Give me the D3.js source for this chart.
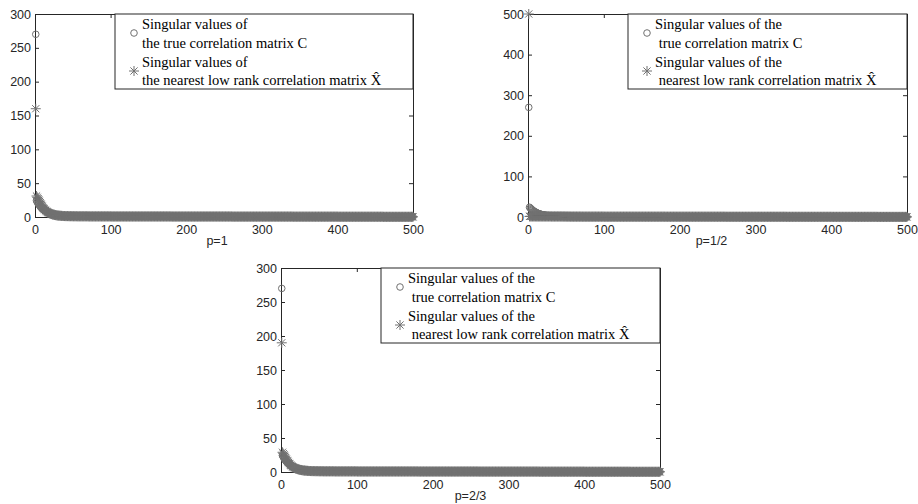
<!DOCTYPE html>
<html>
<head>
<meta charset="utf-8">
<script src="https://cdn.jsdelivr.net/npm/d3@7"></script>
<style>
  body { margin: 0; background: #fff; }
  .axis text { font-family: "Liberation Sans", Arial, sans-serif; font-size: 12.5px; fill: #262626; }
  .axis path, .axis line { stroke: #262626; }
  .title { font-family: "Liberation Sans", Arial, sans-serif; font-size: 12.5px; fill: #262626; }
  .legend text { font-family: "Liberation Serif", "Times New Roman", serif; font-size: 14.5px; fill: #000; }
</style>
</head>
<body>
<svg id="chart"></svg>
<script>
// index of each singular value (x axis)
var index = d3.range(1, 501);
var xTicks = [0, 100, 200, 300, 400, 500];
var yTicks300 = [0, 50, 100, 150, 200, 250, 300];
var yTicks500 = [0, 100, 200, 300, 400, 500];

// singular values of the true correlation matrix C (same in every panel)
var trueHead = [270, 24, 22, 20, 18.5, 17, 15.5, 14, 13, 12,
  11, 10, 9.2, 8.5, 7.8, 7.2, 6.6, 6.1, 5.6, 5.2,
  4.8, 4.5, 4.2, 3.9, 3.6, 3.4, 3.2, 3.0, 2.8, 2.7,
  2.5, 2.4, 2.3, 2.2, 2.1, 2.0, 1.9, 1.85, 1.8, 1.75];
var trueTail = [
  1.7,1.7,1.7,1.6,1.6, 1.6,1.6,1.5,1.5,1.5, 1.5,1.5,1.4,1.4,1.4, 1.4,1.4,1.4,1.3,1.3,
  1.3,1.3,1.3,1.3,1.3, 1.2,1.2,1.2,1.2,1.2, 1.2,1.2,1.2,1.1,1.1, 1.1,1.1,1.1,1.1,1.1,
  1.1,1.1,1.1,1.1,1.0, 1.0,1.0,1.0,1.0,1.0, 1.0,1.0,1.0,1.0,1.0, 1.0,1.0,1.0,1.0,1.0,
  1.0,1.0,1.0,1.0,1.0, 1.0,1.0,1.0,1.0,1.0, 0.9,0.9,0.9,0.9,0.9, 0.9,0.9,0.9,0.9,0.9,
  0.9,0.9,0.9,0.9,0.9, 0.9,0.9,0.9,0.9,0.9, 0.9,0.9,0.9,0.9,0.9, 0.9,0.9,0.9,0.9,0.9,
  0.9,0.9,0.9,0.9,0.9, 0.9,0.9,0.9,0.9,0.9, 0.9,0.9,0.9,0.9,0.9, 0.9,0.9,0.9,0.9,0.9,
  0.9,0.9,0.9,0.9,0.9, 0.9,0.9,0.9,0.9,0.9, 0.8,0.8,0.8,0.8,0.8, 0.8,0.8,0.8,0.8,0.8,
  0.8,0.8,0.8,0.8,0.8, 0.8,0.8,0.8,0.8,0.8, 0.8,0.8,0.8,0.8,0.8, 0.8,0.8,0.8,0.8,0.8,
  0.8,0.8,0.8,0.8,0.8, 0.8,0.8,0.8,0.8,0.8, 0.8,0.8,0.8,0.8,0.8, 0.8,0.8,0.8,0.8,0.8,
  0.8,0.8,0.8,0.8,0.8, 0.8,0.8,0.8,0.8,0.8, 0.8,0.8,0.8,0.8,0.8, 0.8,0.8,0.8,0.8,0.8,
  0.7,0.7,0.7,0.7,0.7, 0.7,0.7,0.7,0.7,0.7, 0.7,0.7,0.7,0.7,0.7, 0.7,0.7,0.7,0.7,0.7,
  0.7,0.7,0.7,0.7,0.7, 0.7,0.7,0.7,0.7,0.7, 0.7,0.7,0.7,0.7,0.7, 0.7,0.7,0.7,0.7,0.7,
  0.7,0.7,0.7,0.7,0.7, 0.7,0.7,0.7,0.7,0.7, 0.7,0.7,0.7,0.7,0.7, 0.7,0.7,0.7,0.7,0.7,
  0.7,0.7,0.7,0.7,0.7, 0.7,0.7,0.7,0.7,0.7, 0.7,0.7,0.7,0.7,0.7, 0.7,0.7,0.7,0.7,0.7,
  0.6,0.6,0.6,0.6,0.6, 0.6,0.6,0.6,0.6,0.6, 0.6,0.6,0.6,0.6,0.6, 0.6,0.6,0.6,0.6,0.6,
  0.6,0.6,0.6,0.6,0.6, 0.6,0.6,0.6,0.6,0.6, 0.6,0.6,0.6,0.6,0.6, 0.6,0.6,0.6,0.6,0.6,
  0.6,0.6,0.6,0.6,0.6, 0.6,0.6,0.6,0.6,0.6, 0.6,0.6,0.6,0.6,0.6, 0.6,0.6,0.6,0.6,0.6,
  0.6,0.6,0.6,0.6,0.6, 0.6,0.6,0.6,0.6,0.6, 0.6,0.6,0.6,0.6,0.6, 0.6,0.6,0.6,0.6,0.6,
  0.5,0.5,0.5,0.5,0.5, 0.5,0.5,0.5,0.5,0.5, 0.5,0.5,0.5,0.5,0.5, 0.5,0.5,0.5,0.5,0.5,
  0.5,0.5,0.5,0.5,0.5, 0.5,0.5,0.5,0.5,0.5, 0.5,0.5,0.5,0.5,0.5, 0.5,0.5,0.5,0.5,0.5,
  0.5,0.5,0.5,0.5,0.5, 0.5,0.5,0.5,0.5,0.5, 0.5,0.5,0.5,0.5,0.5, 0.5,0.5,0.5,0.5,0.5,
  0.4,0.4,0.4,0.4,0.4, 0.4,0.4,0.4,0.4,0.4, 0.4,0.4,0.4,0.4,0.4, 0.4,0.4,0.4,0.4,0.4,
  0.4,0.4,0.4,0.4,0.4, 0.4,0.4,0.4,0.4,0.4, 0.4,0.4,0.4,0.4,0.4, 0.4,0.4,0.4,0.4,0.4];

// singular values of the nearest low rank matrix X^, first 40 for each p
var p1Head = [160, 31, 29, 27, 25, 23, 21, 19, 17, 15,
  13.5, 12, 10.8, 9.7, 8.7, 7.8, 7.0, 6.3, 5.7, 5.2,
  4.7, 4.3, 3.9, 3.6, 3.3, 3.0, 2.8, 2.6, 2.4, 2.2,
  2.1, 2.0, 1.9, 1.8, 1.7, 1.6, 1.5, 1.45, 1.4, 1.35];
var pHalfHead = [500, 1.5, 1.5, 1.5, 1.5, 1.5, 1.5, 1.5, 1.5, 1.5,
  1.4, 1.4, 1.4, 1.4, 1.4, 1.4, 1.4, 1.4, 1.4, 1.4,
  1.4, 1.4, 1.4, 1.4, 1.4, 1.4, 1.4, 1.4, 1.4, 1.4,
  1.3, 1.3, 1.3, 1.3, 1.3, 1.3, 1.3, 1.3, 1.3, 1.3];
var p23Head = [190, 29, 27, 25, 23, 21, 19, 17, 15.5, 14,
  12.5, 11.2, 10, 9, 8.1, 7.3, 6.6, 6.0, 5.4, 4.9,
  4.5, 4.1, 3.8, 3.5, 3.2, 3.0, 2.8, 2.6, 2.4, 2.2,
  2.1, 2.0, 1.9, 1.8, 1.7, 1.6, 1.5, 1.45, 1.4, 1.35];
// the remaining 460 values, about the same for every p
var lowRankTail = [
  1.3,1.3,1.3,1.3,1.2, 1.2,1.2,1.2,1.2,1.1, 1.1,1.1,1.1,1.1,1.1, 1.0,1.0,1.0,1.0,1.0,
  1.0,1.0,1.0,1.0,1.0, 1.0,1.0,1.0,1.0,1.0, 0.9,0.9,0.9,0.9,0.9, 0.9,0.9,0.9,0.9,0.9,
  0.9,0.9,0.9,0.9,0.9, 0.9,0.9,0.9,0.9,0.9, 0.9,0.9,0.9,0.9,0.9, 0.9,0.9,0.9,0.9,0.9,
  0.8,0.8,0.8,0.8,0.8, 0.8,0.8,0.8,0.8,0.8, 0.8,0.8,0.8,0.8,0.8, 0.8,0.8,0.8,0.8,0.8,
  0.8,0.8,0.8,0.8,0.8, 0.8,0.8,0.8,0.8,0.8, 0.8,0.8,0.8,0.8,0.8, 0.8,0.8,0.8,0.8,0.8,
  0.8,0.8,0.8,0.8,0.8, 0.8,0.8,0.8,0.8,0.8, 0.8,0.8,0.8,0.8,0.8, 0.8,0.8,0.8,0.8,0.8,
  0.8,0.8,0.8,0.8,0.8, 0.8,0.8,0.8,0.8,0.8, 0.8,0.8,0.8,0.8,0.8, 0.8,0.8,0.8,0.8,0.8,
  0.7,0.7,0.7,0.7,0.7, 0.7,0.7,0.7,0.7,0.7, 0.7,0.7,0.7,0.7,0.7, 0.7,0.7,0.7,0.7,0.7,
  0.7,0.7,0.7,0.7,0.7, 0.7,0.7,0.7,0.7,0.7, 0.7,0.7,0.7,0.7,0.7, 0.7,0.7,0.7,0.7,0.7,
  0.7,0.7,0.7,0.7,0.7, 0.7,0.7,0.7,0.7,0.7, 0.7,0.7,0.7,0.7,0.7, 0.7,0.7,0.7,0.7,0.7,
  0.7,0.7,0.7,0.7,0.7, 0.7,0.7,0.7,0.7,0.7, 0.7,0.7,0.7,0.7,0.7, 0.7,0.7,0.7,0.7,0.7,
  0.6,0.6,0.6,0.6,0.6, 0.6,0.6,0.6,0.6,0.6, 0.6,0.6,0.6,0.6,0.6, 0.6,0.6,0.6,0.6,0.6,
  0.6,0.6,0.6,0.6,0.6, 0.6,0.6,0.6,0.6,0.6, 0.6,0.6,0.6,0.6,0.6, 0.6,0.6,0.6,0.6,0.6,
  0.6,0.6,0.6,0.6,0.6, 0.6,0.6,0.6,0.6,0.6, 0.6,0.6,0.6,0.6,0.6, 0.6,0.6,0.6,0.6,0.6,
  0.6,0.6,0.6,0.6,0.6, 0.6,0.6,0.6,0.6,0.6, 0.6,0.6,0.6,0.6,0.6, 0.6,0.6,0.6,0.6,0.6,
  0.5,0.5,0.5,0.5,0.5, 0.5,0.5,0.5,0.5,0.5, 0.5,0.5,0.5,0.5,0.5, 0.5,0.5,0.5,0.5,0.5,
  0.5,0.5,0.5,0.5,0.5, 0.5,0.5,0.5,0.5,0.5, 0.5,0.5,0.5,0.5,0.5, 0.5,0.5,0.5,0.5,0.5,
  0.5,0.5,0.5,0.5,0.5, 0.5,0.5,0.5,0.5,0.5, 0.5,0.5,0.5,0.5,0.5, 0.5,0.5,0.5,0.5,0.5,
  0.4,0.4,0.4,0.4,0.4, 0.4,0.4,0.4,0.4,0.4, 0.4,0.4,0.4,0.4,0.4, 0.4,0.4,0.4,0.4,0.4,
  0.4,0.4,0.4,0.4,0.4, 0.4,0.4,0.4,0.4,0.4, 0.4,0.4,0.4,0.4,0.4, 0.4,0.4,0.4,0.4,0.4,
  0.4,0.4,0.4,0.4,0.4, 0.4,0.4,0.4,0.4,0.4, 0.4,0.4,0.4,0.4,0.4, 0.4,0.4,0.4,0.4,0.4,
  0.3,0.3,0.3,0.3,0.3, 0.3,0.3,0.3,0.3,0.3, 0.3,0.3,0.3,0.3,0.3, 0.3,0.3,0.3,0.3,0.3,
  0.3,0.3,0.3,0.3,0.3, 0.3,0.3,0.3,0.3,0.3, 0.3,0.3,0.3,0.3,0.3, 0.3,0.3,0.3,0.3,0.3];

var trueValues = trueHead.concat(trueTail);

var legendShort = ["Singular values of", "the true correlation matrix C",
  "Singular values of", "the nearest low rank correlation matrix X\u0302"];
var legendLong = ["Singular values of the", " true correlation matrix C",
  "Singular values of the", " nearest low rank correlation matrix X\u0302"];

var markerColor = "#717171";

var svg = d3.select("#chart")
    .attr("width", 918)
    .attr("height", 504);

// small asterisk, like matlab's '*' marker
var starPath = "M-5,0H5M0,-5V5M-3.6,-3.6L3.6,3.6M-3.6,3.6L3.6,-3.6";

function drawPanel(p) {
  var g = svg.append("g")
      .attr("transform", "translate(" + p.left + "," + p.top + ")");

  var x = d3.scaleLinear().domain([0, 500]).range([0, p.width]),
      y = d3.scaleLinear().domain([0, p.yMax]).range([p.height, 0]);

  // box with inward ticks on all four sides
  g.append("g").attr("class", "axis")
      .attr("transform", "translate(0," + p.height + ")")
      .call(d3.axisBottom(x).tickValues(xTicks).tickSizeInner(-4).tickSizeOuter(0).tickPadding(8));
  g.append("g").attr("class", "axis")
      .call(d3.axisLeft(y).tickValues(p.yTicks).tickSizeInner(-4).tickSizeOuter(0).tickPadding(4));
  g.append("g").attr("class", "axis")
      .call(d3.axisTop(x).tickValues(xTicks).tickSizeInner(-4).tickSizeOuter(0).tickFormat(""));
  g.append("g").attr("class", "axis")
      .attr("transform", "translate(" + p.width + ",0)")
      .call(d3.axisRight(y).tickValues(p.yTicks).tickSizeInner(-4).tickSizeOuter(0).tickFormat(""));

  // circles: true matrix
  g.append("g").selectAll("circle")
    .data(trueValues)
    .enter().append("circle")
      .attr("cx", function(d, i) { return x(index[i]); })
      .attr("cy", function(d) { return y(d); })
      .attr("r", 3.3)
      .attr("fill", "none")
      .attr("stroke", markerColor)
      .attr("stroke-width", 1);

  // stars: low rank matrix
  g.append("g").selectAll("path")
    .data(p.stars)
    .enter().append("path")
      .attr("d", starPath)
      .attr("transform", function(d, i) { return "translate(" + x(index[i]) + "," + y(d) + ")"; })
      .attr("fill", "none")
      .attr("stroke", markerColor)
      .attr("stroke-width", 1);

  g.append("text").attr("class", "title")
      .attr("x", p.width / 2 + p.titleDx)
      .attr("y", p.height + 28)
      .attr("text-anchor", "middle")
      .text(p.title);

  // legend
  var lg = g.append("g").attr("class", "legend")
      .attr("transform", "translate(" + p.legendX + ",0)");
  lg.append("rect")
      .attr("width", p.width - p.legendX)
      .attr("height", 75)
      .attr("fill", "#fff")
      .attr("stroke", "#262626");
  lg.append("circle")
      .attr("cx", 19).attr("cy", 19).attr("r", 3.3)
      .attr("fill", "none").attr("stroke", markerColor);
  lg.append("path")
      .attr("d", starPath)
      .attr("transform", "translate(19,57)")
      .attr("fill", "none").attr("stroke", markerColor);
  lg.selectAll("text")
    .data(p.legend)
    .enter().append("text")
      .attr("x", 27)
      .attr("y", function(d, i) { return [15, 34, 52.5, 71][i]; })
      .attr("xml:space", "preserve")
      .text(function(d) { return d; });
}

drawPanel({ left: 35, top: 14, width: 378, height: 203, yMax: 300, yTicks: yTicks300,
  stars: p1Head.concat(lowRankTail), title: "p=1", titleDx: -7, legendX: 80, legend: legendShort });
drawPanel({ left: 528, top: 14, width: 379, height: 203, yMax: 500, yTicks: yTicks500,
  stars: pHalfHead.concat(lowRankTail), title: "p=1/2", titleDx: -6, legendX: 100, legend: legendLong });
drawPanel({ left: 281, top: 268, width: 379, height: 204, yMax: 300, yTicks: yTicks300,
  stars: p23Head.concat(lowRankTail), title: "p=2/3", titleDx: 0, legendX: 100, legend: legendLong });
</script>
</body>
</html>
